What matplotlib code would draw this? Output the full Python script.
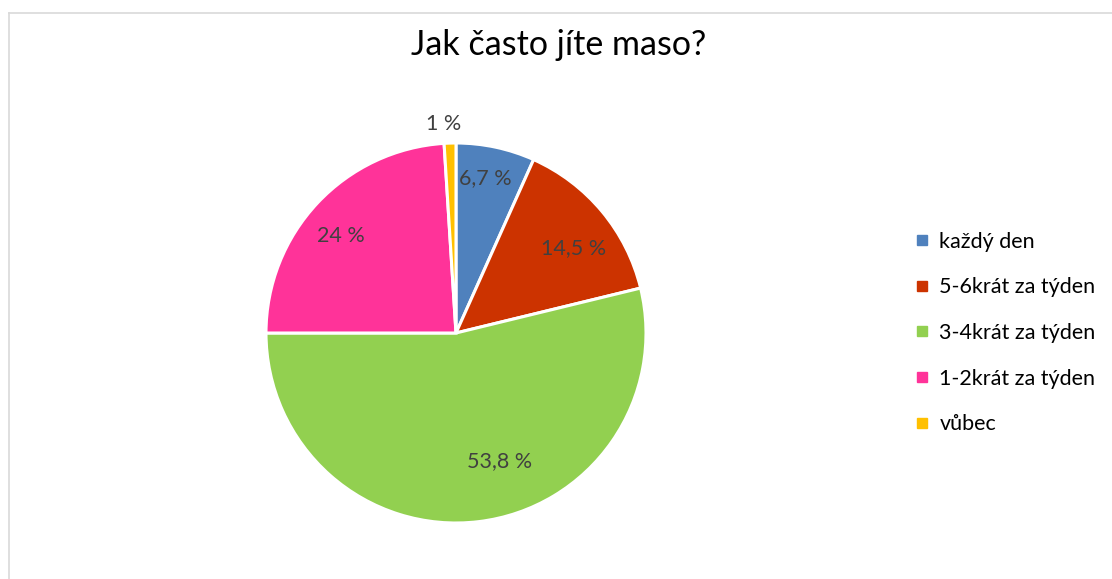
import matplotlib
matplotlib.use("Agg")
import numpy as np
import matplotlib.pyplot as plt
from matplotlib.lines import Line2D

plt.rcParams['font.family'] = ['Lato', 'DejaVu Sans']

categories = ["každý den", "5-6krát za týden", "3-4krát za týden", "1-2krát za týden", "vůbec"]
values = [6.7, 14.5, 53.8, 24, 1]
value_labels = ["6,7 %", "14,5 %", "53,8 %", "24 %", "1 %"]
colors = ["#4F81BD", "#CC3300", "#92D050", "#FF3399", "#FFC000"]
title = "Jak často jíte maso?"

# label placement (radius fraction, angular shift in degrees) per wedge
label_radius = [0.83, 0.76, 0.71, 0.79, 1.10]
label_shift = [1.5, -4.0, 12.0, 3.0, 1.5]

W, H = 1112, 579
fig = plt.figure(figsize=(W / 100, H / 100), dpi=100)

# pie axes: center at (456, 333) px, radius 190 px
R = 190
cx, cy = 456, 333
lim = 1.3
size = 2 * lim * R
ax = fig.add_axes([(cx - size / 2) / W, 1 - (cy + size / 2) / H, size / W, size / H])
wedges, _ = ax.pie(values, colors=colors, startangle=90, counterclock=False,
                   radius=1.0, wedgeprops=dict(edgecolor="white", linewidth=2.2))
ax.set_xlim(-lim, lim)
ax.set_ylim(-lim, lim)
ax.set_aspect("equal")
ax.axis("off")

for w, lab, rf, sh in zip(wedges, value_labels, label_radius, label_shift):
    ang = np.deg2rad((w.theta1 + w.theta2) / 2 + sh)
    ax.text(rf * np.cos(ang), rf * np.sin(ang), lab, ha="center", va="center",
            fontsize=15.5, color="#404040")

fig.text(559 / W, 1 - 45 / H, title, ha="center", va="center", fontsize=24.5, color="#000000")

handles = [Line2D([], [], linestyle="none", marker="s", markersize=7,
                  markerfacecolor=c, markeredgecolor=c) for c in colors]
fig.legend(handles, categories, loc="center left", bbox_to_anchor=(906 / W, 1 - 333 / H),
           frameon=False, fontsize=15.5, labelspacing=1.19, handlelength=0.7,
           handletextpad=0.45, borderaxespad=0)

# chart area border (left and top edges)
fig.add_artist(Line2D([8.5 / W, 8.5 / W], [0, 1 - 12.5 / H], transform=fig.transFigure,
                      color="#D9D9D9", linewidth=1.2))
fig.add_artist(Line2D([8.5 / W, 1], [1 - 12.5 / H, 1 - 12.5 / H], transform=fig.transFigure,
                      color="#D9D9D9", linewidth=1.2))

fig.savefig("out.png", dpi=100, facecolor="white")
